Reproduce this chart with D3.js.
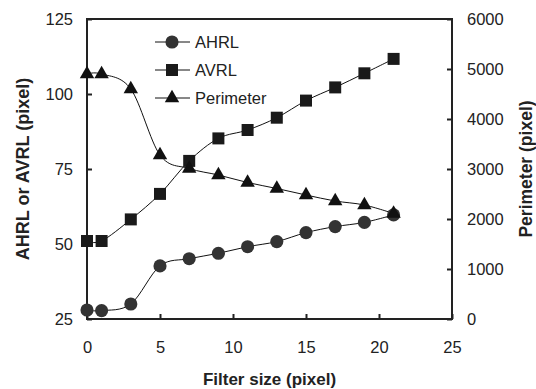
<!DOCTYPE html>
<html>
<head>
<meta charset="utf-8">
<title>Filter size chart</title>
<script src="https://d3js.org/d3.v7.min.js"></script>
<style>
  body { margin: 0; background: #fff; }
  svg text { font-family: "Liberation Sans", Arial, sans-serif; fill: #222; }
</style>
</head>
<body>
<div id="chart"></div>
<script>
// data
var filterSize = [0, 1, 3, 5, 7, 9, 11, 13, 15, 17, 19, 21];
var ahrl = [28, 27.8, 30, 42.7, 45.1, 46.9, 49.1, 50.8, 53.8, 55.8, 57.2, 59.7];
var avrl = [51, 51, 58.2, 66.7, 77.7, 85.2, 88, 92.1, 97.8, 102.2, 106.9, 111.7];
var perimeter = [4900, 4900, 4600, 3280, 3010, 2880, 2730, 2610, 2480, 2360, 2280, 2110];

var xTicks = [0, 5, 10, 15, 20, 25];
var yLeftTicks = [25, 50, 75, 100, 125];
var yRightTicks = [0, 1000, 2000, 3000, 4000, 5000, 6000];

var width = 536, height = 389;
var margin = {left: 87, right: 84, top: 19, bottom: 70};

var svg = d3.select("#chart").append("svg")
  .attr("width", width)
  .attr("height", height);

var x = d3.scaleLinear().domain([0, 25]).range([margin.left, width - margin.right]);
var yL = d3.scaleLinear().domain([25, 125]).range([height - margin.bottom, margin.top]);
var yR = d3.scaleLinear().domain([0, 6000]).range([height - margin.bottom, margin.top]);

// axes, ticks point inward
var xAxis = svg.append("g")
  .attr("transform", "translate(0," + (height - margin.bottom) + ")")
  .call(d3.axisBottom(x).tickValues(xTicks).tickSizeInner(-5).tickSizeOuter(0).tickPadding(22));
var lAxis = svg.append("g")
  .attr("transform", "translate(" + margin.left + ",0)")
  .call(d3.axisLeft(yL).tickValues(yLeftTicks).tickSizeInner(-5).tickSizeOuter(0).tickPadding(14));
var rAxis = svg.append("g")
  .attr("transform", "translate(" + (width - margin.right) + ",0)")
  .call(d3.axisRight(yR).tickValues(yRightTicks).tickFormat(d3.format("d"))
    .tickSizeInner(-5).tickSizeOuter(0).tickPadding(15));

[xAxis, lAxis, rAxis].forEach(function(g) {
  g.select(".domain").remove();
  g.selectAll(".tick line").attr("stroke", "#222").attr("stroke-width", 2);
  g.selectAll(".tick text").style("font-size", "16.5px").attr("fill", "#222");
});

// frame
svg.append("rect")
  .attr("x", x(0)).attr("y", yL(125))
  .attr("width", x(25) - x(0)).attr("height", yL(25) - yL(125))
  .attr("fill", "none").attr("stroke", "#222").attr("stroke-width", 2);

// axis titles
svg.append("text")
  .attr("x", (x(0) + x(25)) / 2).attr("y", 385)
  .attr("text-anchor", "middle")
  .style("font-size", "17px").style("font-weight", "bold")
  .text("Filter size (pixel)");
svg.append("text")
  .attr("transform", "translate(29," + ((yL(25) + yL(125)) / 2) + ") rotate(-90)")
  .attr("text-anchor", "middle")
  .style("font-size", "18px").style("font-weight", "bold")
  .text("AHRL or AVRL (pixel)");
svg.append("text")
  .attr("transform", "translate(532," + ((yL(25) + yL(125)) / 2) + ") rotate(-90)")
  .attr("text-anchor", "middle")
  .style("font-size", "17.5px").style("font-weight", "bold")
  .text("Perimeter (pixel)");

var series = [
  {name: "AHRL", values: ahrl, y: yL, symbol: d3.symbolCircle, size: 135, fill: "#333"},
  {name: "AVRL", values: avrl, y: yL, symbol: d3.symbolSquare, size: 144, fill: "#1a1a1a"},
  {name: "Perimeter", values: perimeter, y: yR, symbol: d3.symbolTriangle, size: 90, fill: "#111"}
];

var curve = d3.curveCatmullRom.alpha(0);

series.forEach(function(s) {
  var line = d3.line()
    .x(function(d, i) { return x(filterSize[i]); })
    .y(function(d) { return s.y(d); })
    .curve(curve);
  svg.append("path")
    .datum(s.values)
    .attr("d", line)
    .attr("fill", "none")
    .attr("stroke", "#111")
    .attr("stroke-width", 1);
});

series.forEach(function(s) {
  svg.append("g").selectAll("path")
    .data(s.values)
    .enter().append("path")
    .attr("transform", function(d, i) { return "translate(" + x(filterSize[i]) + "," + s.y(d) + ")"; })
    .attr("d", d3.symbol().type(s.symbol).size(s.size))
    .attr("fill", s.fill);
});

// legend
var legend = svg.append("g");
series.forEach(function(s, i) {
  var yy = 42 + i * 28;
  legend.append("line")
    .attr("x1", 155).attr("x2", 190).attr("y1", yy).attr("y2", yy)
    .attr("stroke", "#111").attr("stroke-width", 1);
  legend.append("path")
    .attr("transform", "translate(172," + yy + ")")
    .attr("d", d3.symbol().type(s.symbol).size(s.size))
    .attr("fill", s.fill);
  legend.append("text")
    .attr("x", 195).attr("y", yy).attr("dy", "0.35em")
    .style("font-size", "16.5px")
    .text(s.name);
});
</script>
</body>
</html>
